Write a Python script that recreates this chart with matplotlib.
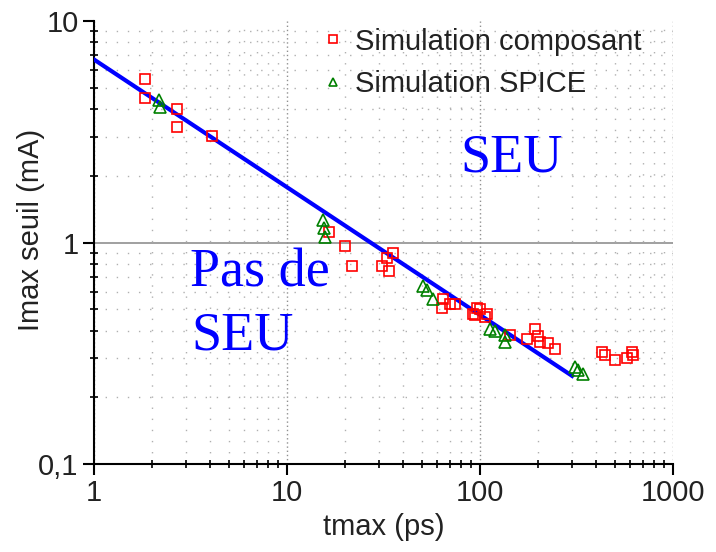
import matplotlib
matplotlib.use('Agg')
import matplotlib.pyplot as plt
from matplotlib.ticker import LogLocator, NullFormatter

plt.rcParams['font.family'] = ['Liberation Sans', 'DejaVu Sans']

# données
comp_t = [1.84, 1.84, 2.69, 2.69, 4.09, 16.5, 20.0, 21.7, 31.1, 33.0, 35.4, 33.8,
          64.3, 63.6, 69.9, 74.2, 92.0, 96.5, 100, 108.7, 94.2, 106,
          143, 175, 193, 200, 205, 225, 245, 429, 444, 500, 578, 621, 613]
comp_i = [5.50, 4.47, 3.99, 3.31, 3.01, 1.11, 0.96, 0.78, 0.78, 0.855, 0.90, 0.74,
          0.553, 0.504, 0.525, 0.525, 0.478, 0.504, 0.499, 0.478, 0.473, 0.463,
          0.384, 0.365, 0.409, 0.377, 0.357, 0.35, 0.332, 0.322, 0.312, 0.296, 0.30, 0.312, 0.322]

spice_t = [2.17, 2.2, 15.4, 15.5, 15.8, 50.7, 53.1, 57.1, 112.7, 119.6, 134.8, 134.8, 311, 322, 342]
spice_i = [4.42, 4.07, 1.27, 1.16, 1.06, 0.633, 0.613, 0.553, 0.405, 0.397, 0.384, 0.357, 0.275, 0.267, 0.256]

fit_t = [1, 300]
fit_i = [6.7, 0.25]

fig = plt.figure(figsize=(7.16, 5.52), dpi=100)
ax = fig.add_axes([94/716, 1-464/552, (673-94)/716, (464-21)/552])

ax.plot(fit_t, fit_i, color='#0000ff', lw=3, zorder=3)
ax.plot(comp_t, comp_i, ls='none', marker='s', ms=7.5, mfc='none', mec='#ff0000', mew=1.2,
        label='Simulation composant', zorder=4)
ax.plot(spice_t, spice_i, ls='none', marker='^', ms=8.5, mfc='none', mec='#008000', mew=1.2,
        label='Simulation SPICE', zorder=4)

ax.set_xscale('log')
ax.set_yscale('log')
ax.set_xlim(1, 1000)
ax.set_ylim(0.1, 10)

ax.set_xticks([1, 10, 100, 1000], ['1', '10', '100', '1000'])
ax.set_yticks([0.1, 1, 10], ['0,1', '1', '10'])
ax.xaxis.set_minor_locator(LogLocator(base=10, subs=range(2, 10)))
ax.yaxis.set_minor_locator(LogLocator(base=10, subs=range(2, 10)))
ax.xaxis.set_minor_formatter(NullFormatter())
ax.yaxis.set_minor_formatter(NullFormatter())
ax.tick_params(which='major', direction='out', length=8, width=1.5, labelsize=21, pad=3,
               labelcolor='#222222')
ax.tick_params(which='minor', direction='inout', length=6, width=1.2)

# grille
ax.grid(True, which='minor', color='#b0b0b0', lw=1, ls=(0, (1, 7)))
ax.grid(True, which='major', axis='x', color='#909090', lw=1, ls=(0, (1, 2)))
ax.axhline(1, color='#909090', lw=1.2, zorder=1)

for s in ['top', 'right']:
    ax.spines[s].set_visible(False)
for s in ['left', 'bottom']:
    ax.spines[s].set_linewidth(1.5)

ax.set_xlabel('tmax (ps)', fontsize=21, labelpad=4, color='#222222')
ax.set_ylabel('Imax seuil (mA)', fontsize=21, color='#222222')
ax.yaxis.set_label_coords(-0.085, 0.528)

serif = ['Liberation Serif', 'DejaVu Serif']
ax.text(78.8, 2.09, 'SEU', color='#0000ff', fontsize=39, family=serif, va='baseline')
ax.text(3.14, 0.633, 'Pas de', color='#0000ff', fontsize=39, family=serif, va='baseline')
ax.text(3.2, 0.329, 'SEU', color='#0000ff', fontsize=39, family=serif, va='baseline')

ax.legend(loc='upper left', bbox_to_anchor=(308/716, 1-13/552), bbox_transform=fig.transFigure,
          frameon=False, fontsize=21, markerscale=0.7, handlelength=0.7, handletextpad=0.4,
          labelspacing=0.5, borderpad=0, labelcolor='#222222')

fig.savefig('out.png', dpi=100)
